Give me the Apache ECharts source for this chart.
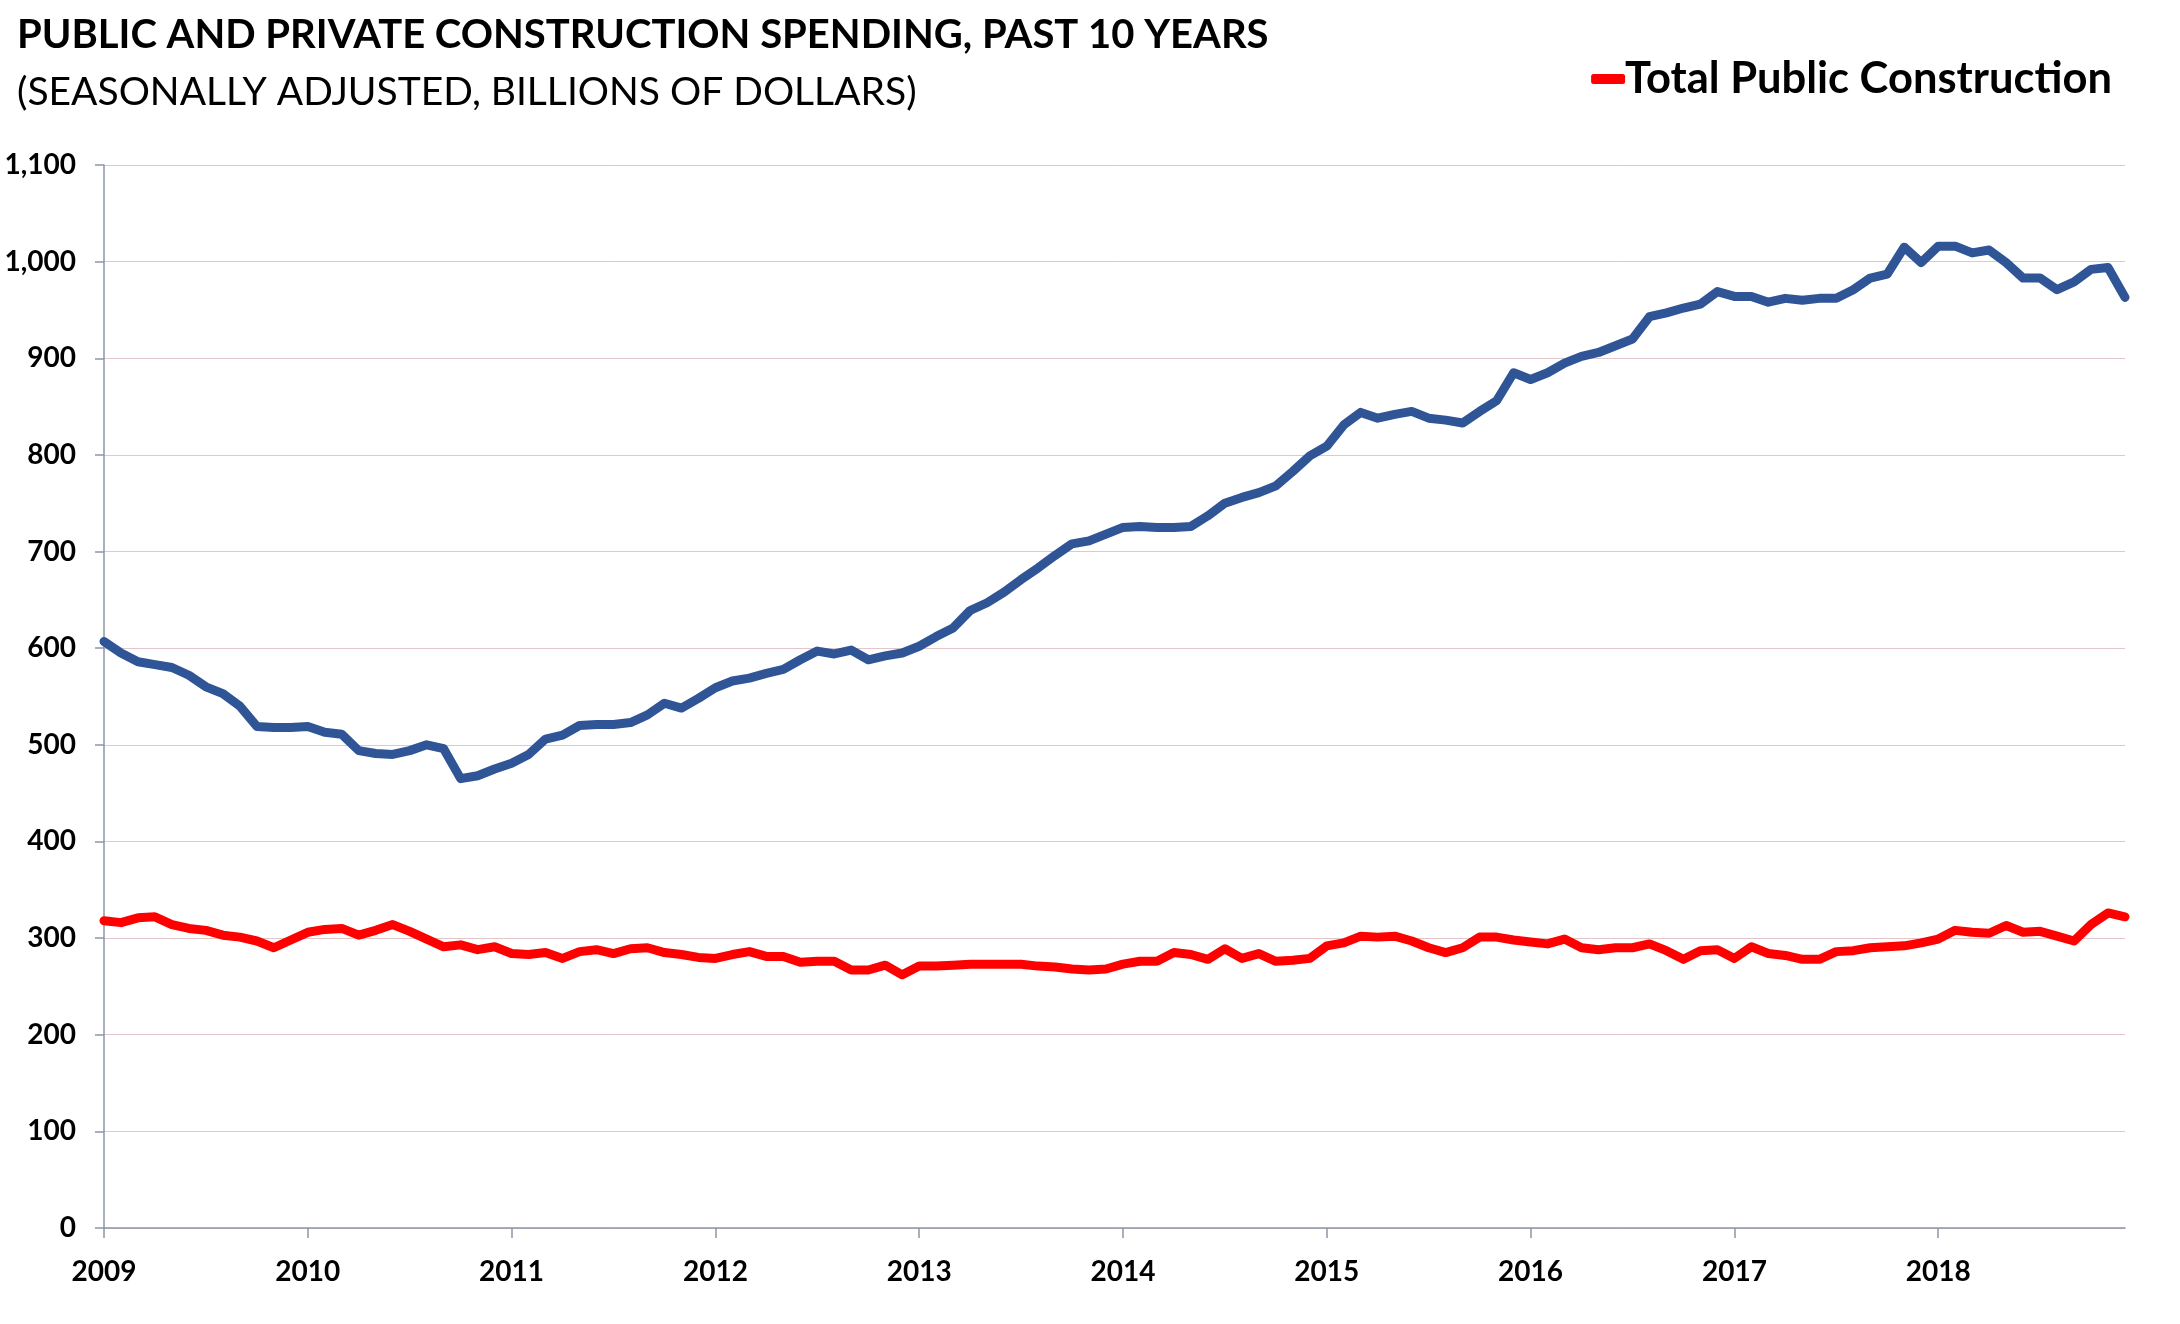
<!DOCTYPE html>
<html>
<head>
<meta charset="utf-8">
<script src="https://cdn.jsdelivr.net/npm/echarts@6/dist/echarts.min.js"></script>
<style>
html,body{margin:0;padding:0;background:#fff;}
#chart{width:2180px;height:1324px;}
</style>
</head>
<body>
<div id="chart"></div>
<script>
// ---- Data (monthly, Jan 2009 – Dec 2018) ----
var years = ['2009','2010','2011','2012','2013','2014','2015','2016','2017','2018'];
var monthNames = ['01','02','03','04','05','06','07','08','09','10','11','12'];

var privateConstruction = [
  607,595,586,583,580,572,560,553,540,519,518,518,
  519,513,511,494,491,490,494,500,496,465,468,475,
  481,490,506,510,520,521,521,523,531,543,538,548,
  559,566,569,574,578,588,597,594,598,588,592,595,
  602,612,621,639,647,658,671,683,696,708,711,718,
  725,726,725,725,726,737,750,756,761,768,783,799,
  809,831,844,838,842,845,838,836,833,845,856,885,
  878,885,895,902,906,913,920,943,947,952,956,969,
  964,964,958,962,960,962,962,971,983,987,1015,999,
  1016,1016,1009,1012,999,983,983,971,979,992,994,963
];

var publicConstruction = [
  318,316,321,322,314,310,308,303,301,297,290,298,
  306,309,310,303,308,314,307,299,291,293,288,291,
  284,283,285,279,286,288,284,289,290,285,283,280,
  279,283,286,281,281,275,276,276,267,267,272,262,
  271,271,272,273,273,273,273,271,270,268,267,268,
  273,276,276,285,283,278,289,279,284,276,277,279,
  292,295,302,301,302,297,290,285,290,301,301,298,
  296,294,299,290,288,290,290,294,287,278,287,288,
  279,291,284,282,278,278,286,287,290,291,292,295,
  299,308,306,305,313,306,307,302,297,314,326,322
];

var yTicks = [0,100,200,300,400,500,600,700,800,900,1000,1100];

var titleText = 'PUBLIC AND PRIVATE CONSTRUCTION SPENDING, PAST 10 YEARS';
var subtitleText = '(SEASONALLY ADJUSTED, BILLIONS OF DOLLARS)';
var publicName = 'Total Public Construction';
var privateName = 'Total Private Construction';

// ---- Build categories ----
var categories = [];
years.forEach(function(y){ monthNames.forEach(function(m){ categories.push(y + '-' + m); }); });

var FONT = 'Lato, "Open Sans", sans-serif';
var AXIS_COLOR = '#8A97AB';
var GRID_COLOR = '#E2C6C9';

var chart = echarts.init(document.getElementById('chart'), null, {renderer:'canvas'});
chart.setOption({
  backgroundColor: '#ffffff',
  animation: false,
  title: [
    {text: titleText, left: 12, top: 10,
     textStyle:{fontFamily:FONT, fontWeight:'bold', fontSize:40, color:'#000'}},
    {text: subtitleText, left: 12, top: 68,
     textStyle:{fontFamily:FONT, fontWeight:'normal', fontSize:39, color:'#000'}}
  ],
  legend: {
    data: [publicName],
    right: 68, top: 57, padding: 0,
    icon: 'roundRect', itemWidth: 34, itemHeight: 10,
    textStyle:{fontFamily:FONT, fontWeight:'bold', fontSize:43.5, color:'#000', padding:[0,0,0,-5]}
  },
  grid: {left: 104, right: 55, top: 165, bottom: 96, containLabel: false},
  xAxis: {
    type: 'category',
    data: categories,
    boundaryGap: false,
    axisLine: {lineStyle:{color:AXIS_COLOR, width:1.5}},
    axisTick: {show:true, length:10, interval:function(i){return i % 12 === 0;}, lineStyle:{color:AXIS_COLOR, width:1.5}},
    axisLabel: {
      interval:function(i){return i % 12 === 0;},
      formatter:function(v){return v.split('-')[0];},
      margin: 30,
      fontFamily:FONT, fontWeight:'bold', fontSize:28, color:'#000'
    },
    splitLine: {show:false}
  },
  yAxis: {
    type: 'value',
    min: yTicks[0], max: yTicks[yTicks.length-1], interval: 100,
    axisLine: {show:true, lineStyle:{color:AXIS_COLOR, width:1.5}},
    axisTick: {show:true, length:9, lineStyle:{color:AXIS_COLOR, width:1.5}},
    axisLabel: {
      margin: 28,
      formatter:function(v){return v.toLocaleString('en-US');},
      fontFamily:FONT, fontWeight:'bold', fontSize:28, color:'#000'
    },
    splitLine: {show:true, lineStyle:{color:GRID_COLOR, width:1}}
  },
  series: [
    {name: privateName, type:'line', data: privateConstruction, showSymbol:false, symbol:'none',
     lineStyle:{color:'#2F5597', width:9, cap:'round', join:'round'}, itemStyle:{color:'#2F5597'}},
    {name: publicName, type:'line', data: publicConstruction, showSymbol:false, symbol:'none',
     lineStyle:{color:'#FF0000', width:9, cap:'round', join:'round'}, itemStyle:{color:'#FF0000'}}
  ]
});
</script>
</body>
</html>
